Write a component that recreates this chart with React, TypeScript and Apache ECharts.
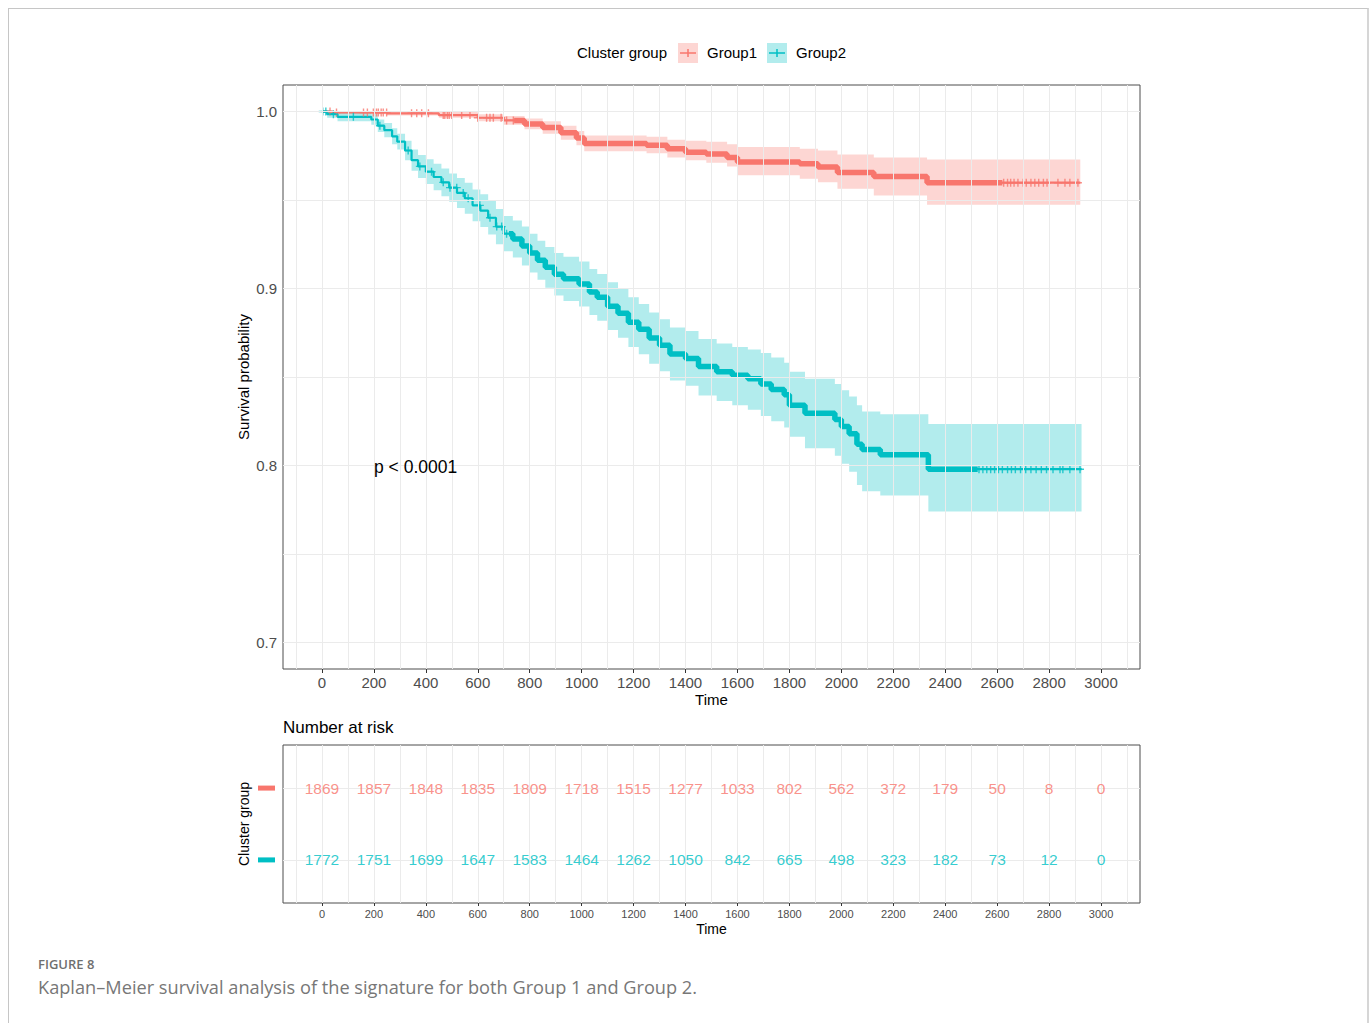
import React, { useEffect, useRef } from "react";
import * as echarts from "echarts";

const RED = "#F8766D";
const TEAL = "#00BFC4";
const RED_BAND = "rgba(248,118,109,0.3)";
const TEAL_BAND = "rgba(0,191,196,0.3)";
const FONT = "Liberation Sans, Arial, sans-serif";

// ---- Group 1 (Kaplan-Meier steps) ----
const g1Time = [0, 40, 250, 450, 600, 700, 780, 850, 920, 980, 1010, 1250, 1330, 1400, 1480, 1560, 1600, 1840, 1910, 1985, 2125, 2330, 2920];
const g1Surv = [1.0, 0.9995, 0.999, 0.998, 0.9965, 0.995, 0.993, 0.991, 0.988, 0.985, 0.982, 0.981, 0.979, 0.977, 0.976, 0.974, 0.9715, 0.9705, 0.9686, 0.9655, 0.9633, 0.9598, 0.9598];
const g1Lower = [1.0, 0.9985, 0.9978, 0.9965, 0.9945, 0.9925, 0.99, 0.9875, 0.984, 0.981, 0.9775, 0.9765, 0.974, 0.9725, 0.971, 0.969, 0.964, 0.962, 0.96, 0.9564, 0.9526, 0.9474, 0.9474];
const g1Upper = [1.0, 1.0, 1.0, 0.9998, 0.9985, 0.9975, 0.996, 0.9945, 0.992, 0.989, 0.9865, 0.9857, 0.984, 0.9835, 0.983, 0.9815, 0.98, 0.979, 0.978, 0.9757, 0.974, 0.9729, 0.9729];
const g1Censor = [31, 56, 160, 175, 198, 210, 217, 228, 236, 249, 345, 365, 384, 410, 467, 473, 483, 490, 500, 538, 570, 600, 634, 647, 660, 690, 711, 737, 2625, 2640, 2652, 2665, 2680, 2700, 2712, 2730, 2745, 2760, 2778, 2792, 2834, 2861, 2880, 2911];
const g1Dense = [740, 2620];

// ---- Group 2 ----
const g2Time = [0, 20, 60, 190, 215, 240, 270, 290, 320, 345, 370, 400, 430, 460, 490, 520, 550, 580, 610, 640, 670, 700, 735, 770, 800, 830, 860, 895, 930, 990, 1030, 1060, 1100, 1140, 1180, 1220, 1260, 1300, 1340, 1400, 1450, 1520, 1580, 1640, 1690, 1730, 1780, 1800, 1860, 1975, 2000, 2030, 2060, 2080, 2150, 2335, 2925];
const g2Surv = [1.0, 0.9985, 0.997, 0.9955, 0.992, 0.9895, 0.986, 0.983, 0.978, 0.9725, 0.969, 0.966, 0.963, 0.96, 0.957, 0.954, 0.951, 0.947, 0.944, 0.94, 0.935, 0.931, 0.928, 0.924, 0.92, 0.916, 0.912, 0.908, 0.9055, 0.9025, 0.898, 0.895, 0.89, 0.886, 0.881, 0.877, 0.872, 0.868, 0.863, 0.8605, 0.856, 0.853, 0.851, 0.849, 0.846, 0.843, 0.84, 0.834, 0.8295, 0.826, 0.822, 0.818, 0.812, 0.809, 0.806, 0.7979, 0.7979];
const g2Lower = [1.0, 0.9965, 0.9945, 0.9925, 0.9885, 0.9855, 0.9815, 0.9785, 0.9725, 0.9665, 0.9625, 0.959, 0.9555, 0.9522, 0.949, 0.9455, 0.9423, 0.938, 0.9348, 0.9305, 0.925, 0.921, 0.9175, 0.913, 0.909, 0.905, 0.9005, 0.896, 0.893, 0.8898, 0.885, 0.8818, 0.8765, 0.8722, 0.867, 0.8628, 0.8575, 0.8533, 0.848, 0.845, 0.8395, 0.8365, 0.834, 0.8315, 0.828, 0.825, 0.8215, 0.8162, 0.8098, 0.8055, 0.801, 0.7965, 0.789, 0.7855, 0.783, 0.774, 0.774];
const g2Upper = [1.0, 1.0, 0.9995, 0.9985, 0.9955, 0.9935, 0.9905, 0.9875, 0.9835, 0.9785, 0.9755, 0.973, 0.9705, 0.9678, 0.965, 0.9625, 0.9597, 0.956, 0.9532, 0.9495, 0.945, 0.941, 0.9385, 0.935, 0.931, 0.927, 0.9235, 0.92, 0.918, 0.9152, 0.911, 0.9082, 0.9035, 0.8998, 0.895, 0.8912, 0.8865, 0.8827, 0.878, 0.876, 0.8715, 0.869, 0.867, 0.8655, 0.8635, 0.861, 0.858, 0.853, 0.849, 0.846, 0.8425, 0.839, 0.834, 0.8305, 0.829, 0.8235, 0.8235];
const g2Censor = [3, 15, 44, 121, 223, 332, 377, 422, 467, 493, 519, 544, 563, 608, 647, 673, 692, 711, 2530, 2545, 2560, 2575, 2590, 2605, 2620, 2640, 2655, 2670, 2690, 2710, 2730, 2750, 2770, 2790, 2815, 2842, 2853, 2880, 2919];
const g2Dense = [720, 2525];

// ---- Axes ----
const timeTicks = [0, 200, 400, 600, 800, 1000, 1200, 1400, 1600, 1800, 2000, 2200, 2400, 2600, 2800, 3000];
const timeGrid = [-100, 0, 100, 200, 300, 400, 500, 600, 700, 800, 900, 1000, 1100, 1200, 1300, 1400, 1500, 1600, 1700, 1800, 1900, 2000, 2100, 2200, 2300, 2400, 2500, 2600, 2700, 2800, 2900, 3000, 3100];
const survTicks = [0.7, 0.8, 0.9, 1.0];
const survGrid = [0.7, 0.75, 0.8, 0.85, 0.9, 0.95, 1.0];

// ---- Risk table ----
const riskTimes = [0, 200, 400, 600, 800, 1000, 1200, 1400, 1600, 1800, 2000, 2200, 2400, 2600, 2800, 3000];
const risk1 = [1869, 1857, 1848, 1835, 1809, 1718, 1515, 1277, 1033, 802, 562, 372, 179, 50, 8, 0];
const risk2 = [1772, 1751, 1699, 1647, 1583, 1464, 1262, 1050, 842, 665, 498, 323, 182, 73, 12, 0];

function survAt(times: number[], surv: number[], t: number) {
  let s = surv[0];
  for (let i = 0; i < times.length; i++) {
    if (times[i] <= t) s = surv[i];
    else break;
  }
  return s;
}

function segment(times: number[], surv: number[], a: number, b: number) {
  const pts: number[][] = [[a, survAt(times, surv, a)]];
  times.forEach((t, i) => {
    if (t > a && t < b) pts.push([t, surv[i]]);
  });
  pts.push([b, survAt(times, surv, b)]);
  return pts;
}

function bandRender(times: number[], lo: number[], hi: number[], color: string) {
  return (params: any, api: any) => {
    if (params.dataIndex !== 0) return null;
    const up: number[][] = [];
    const dn: number[][] = [];
    for (let i = 0; i < times.length; i++) {
      const tn = i < times.length - 1 ? times[i + 1] : times[i];
      up.push(api.coord([times[i], hi[i]]), api.coord([tn, hi[i]]));
      dn.push(api.coord([times[i], lo[i]]), api.coord([tn, lo[i]]));
    }
    return {
      type: "polygon",
      shape: { points: up.concat(dn.reverse()) },
      style: { fill: color },
    };
  };
}

const PLUS = "path://M5,0 L5,10 M0,5 L10,5";

export default function App() {
  const ref = useRef<HTMLDivElement>(null);
  useEffect(() => {
    if (!ref.current) return;
    const chart = echarts.init(ref.current, undefined, { renderer: "svg" });

    const gridLines = (xs: number[], ys: number[]) => ({
      silent: true,
      symbol: ["none", "none"],
      label: { show: false },
      emphasis: { disabled: true },
      lineStyle: { color: "#ebebeb", width: 1, type: "solid" },
      data: [...xs.map((v) => ({ xAxis: v })), ...ys.map((v) => ({ yAxis: v }))],
    });

    const stepLine = (times: number[], surv: number[], color: string, width: number, z: number, xi = 0) => ({
      type: "line",
      xAxisIndex: xi,
      yAxisIndex: xi,
      step: "end",
      showSymbol: false,
      symbol: "none",
      z,
      lineStyle: { color, width },
      data: times.map((t, i) => [t, surv[i]]),
      silent: true,
    });

    const riskLabel = (color: string) => ({
      show: true, position: "inside",
      formatter: (p: any) => String(p.value[2]),
      color, fontSize: 15.5, fontFamily: FONT,
      textBorderWidth: 0, textShadowBlur: 0,
    });

    const option: any = {
      animation: false,
      textStyle: { fontFamily: FONT },
      grid: [
        { left: 283, top: 85, width: 857, height: 584, show: true, borderColor: "#4d4d4d", borderWidth: 1, backgroundColor: "transparent" },
        { left: 283, top: 745, width: 857, height: 158, show: true, borderColor: "#4d4d4d", borderWidth: 1, backgroundColor: "transparent" },
      ],
      xAxis: [
        {
          type: "value", gridIndex: 0, min: -150, max: 3150,
          axisLine: { show: false },
          splitLine: { show: false },
          axisTick: { show: true, customValues: timeTicks, length: 4, lineStyle: { color: "#333" } },
          axisLabel: { customValues: timeTicks, fontSize: 15, color: "#4d4d4d", margin: 6, fontFamily: FONT, formatter: (v: number) => String(v) },
          name: "Time", nameLocation: "middle", nameGap: 23, nameMoveOverlap: false,
          nameTextStyle: { color: "#000", fontSize: 15, fontFamily: FONT },
        },
        {
          type: "value", gridIndex: 1, min: -150, max: 3150,
          axisLine: { show: false },
          splitLine: { show: false },
          axisTick: { show: true, customValues: timeTicks, length: 3, lineStyle: { color: "#333" } },
          axisLabel: { customValues: timeTicks, fontSize: 11, color: "#4d4d4d", margin: 5, fontFamily: FONT, formatter: (v: number) => String(v) },
          name: "Time", nameLocation: "middle", nameGap: 19, nameMoveOverlap: false,
          nameTextStyle: { color: "#000", fontSize: 14, fontFamily: FONT },
        },
      ],
      yAxis: [
        {
          type: "value", gridIndex: 0, min: 0.685, max: 1.015,
          axisLine: { show: false },
          splitLine: { show: false },
          axisTick: { show: true, customValues: survTicks, length: 4, lineStyle: { color: "#333" } },
          axisLabel: { customValues: survTicks, fontSize: 15, color: "#4d4d4d", margin: 6, fontFamily: FONT, formatter: (v: number) => v.toFixed(1) },
          name: "Survival probability", nameLocation: "middle", nameGap: 32, nameMoveOverlap: false,
          nameTextStyle: { color: "#000", fontSize: 15, fontFamily: FONT },
        },
        {
          type: "value", gridIndex: 1, min: 0.4, max: 2.6,
          axisLine: { show: false },
          splitLine: { show: false },
          axisTick: { show: false },
          axisLabel: {
            customValues: [1, 2], margin: 8,
            formatter: (v: number) => (v === 2 ? "{a| }" : v === 1 ? "{b| }" : ""),
            rich: {
              a: { width: 17, height: 5, lineHeight: 5, backgroundColor: RED },
              b: { width: 17, height: 5, lineHeight: 5, backgroundColor: TEAL },
            },
          },
          name: "Cluster group", nameLocation: "middle", nameGap: 32, nameMoveOverlap: false,
          nameTextStyle: { color: "#000", fontSize: 14, fontFamily: FONT },
        },
      ],
      series: [
        { type: "line", xAxisIndex: 0, yAxisIndex: 0, data: [], z: 0, markLine: gridLines(timeGrid, survGrid) },
        { type: "line", xAxisIndex: 1, yAxisIndex: 1, data: [], z: 0, markLine: gridLines(timeGrid, [1, 2]) },
        {
          type: "custom", xAxisIndex: 0, yAxisIndex: 0, z: 2, silent: true,
          renderItem: bandRender(g1Time, g1Lower, g1Upper, RED_BAND),
          data: g1Time.map((t, i) => [t, g1Lower[i], g1Upper[i]]),
          encode: { x: 0, y: [1, 2] },
        },
        {
          type: "custom", xAxisIndex: 0, yAxisIndex: 0, z: 2, silent: true,
          renderItem: bandRender(g2Time, g2Lower, g2Upper, TEAL_BAND),
          data: g2Time.map((t, i) => [t, g2Lower[i], g2Upper[i]]),
          encode: { x: 0, y: [1, 2] },
        },
        stepLine(g1Time, g1Surv, RED, 2.2, 3),
        stepLine(g2Time, g2Surv, TEAL, 2.2, 3),
        {
          ...stepLine(g1Time, g1Surv, RED, 5.5, 3),
          data: segment(g1Time, g1Surv, g1Dense[0], g1Dense[1]),
        },
        {
          ...stepLine(g2Time, g2Surv, TEAL, 5.5, 3),
          data: segment(g2Time, g2Surv, g2Dense[0], g2Dense[1]),
        },
        {
          type: "scatter", xAxisIndex: 0, yAxisIndex: 0, z: 4, silent: true,
          symbol: PLUS, symbolSize: 8,
          itemStyle: { color: "none", borderColor: RED, borderWidth: 1.4 },
          data: g1Censor.map((t) => [t, survAt(g1Time, g1Surv, t)]),
        },
        {
          type: "scatter", xAxisIndex: 0, yAxisIndex: 0, z: 4, silent: true,
          symbol: PLUS, symbolSize: 8,
          itemStyle: { color: "none", borderColor: TEAL, borderWidth: 1.4 },
          data: g2Censor.map((t) => [t, survAt(g2Time, g2Surv, t)]),
        },
        {
          type: "scatter", xAxisIndex: 1, yAxisIndex: 1, z: 5, silent: true,
          symbolSize: 1, itemStyle: { color: "transparent" },
          label: riskLabel(RED),
          data: riskTimes.map((t, i) => [t, 2, risk1[i]]),
        },
        {
          type: "scatter", xAxisIndex: 1, yAxisIndex: 1, z: 5, silent: true,
          symbolSize: 1, itemStyle: { color: "transparent" },
          label: riskLabel(TEAL),
          data: riskTimes.map((t, i) => [t, 1, risk2[i]]),
        },
      ],
      graphic: [
        { type: "text", z: 100, left: 577, top: 45, style: { text: "Cluster group", fontSize: 15, fill: "#000", fontFamily: FONT } },
        { type: "rect", z: 100, shape: { x: 678, y: 43, width: 20, height: 20 }, style: { fill: RED_BAND } },
        { type: "line", z: 100, shape: { x1: 680, y1: 53, x2: 696, y2: 53 }, style: { stroke: RED, lineWidth: 1.5 } },
        { type: "line", z: 100, shape: { x1: 688, y1: 49, x2: 688, y2: 57 }, style: { stroke: RED, lineWidth: 1.5 } },
        { type: "text", z: 100, left: 707, top: 45, style: { text: "Group1", fontSize: 15, fill: "#000", fontFamily: FONT } },
        { type: "rect", z: 100, shape: { x: 767, y: 43, width: 20, height: 20 }, style: { fill: TEAL_BAND } },
        { type: "line", z: 100, shape: { x1: 769, y1: 53, x2: 785, y2: 53 }, style: { stroke: TEAL, lineWidth: 1.5 } },
        { type: "line", z: 100, shape: { x1: 777, y1: 49, x2: 777, y2: 57 }, style: { stroke: TEAL, lineWidth: 1.5 } },
        { type: "text", z: 100, left: 796, top: 45, style: { text: "Group2", fontSize: 15, fill: "#000", fontFamily: FONT } },
        { type: "text", z: 100, left: 374, top: 458, style: { text: "p < 0.0001", fontSize: 17.5, fill: "#000", fontFamily: FONT } },
        { type: "text", z: 100, left: 283, top: 719, style: { text: "Number at risk", fontSize: 17, fill: "#000", fontFamily: FONT } },
        { type: "text", z: 100, left: 38, top: 957, style: { text: "FIGURE 8", fontSize: 13, fontWeight: 600, fill: "#6f6f6f", fontFamily: "Open Sans, sans-serif" } },
        { type: "text", z: 100, left: 38, top: 978, style: { text: "Kaplan\u2013Meier survival analysis of the signature for both Group 1 and Group 2.", fontSize: 18.2, fill: "#777", fontFamily: "Open Sans, sans-serif" } },
      ],
    };

    chart.setOption(option);
    return () => chart.dispose();
  }, []);

  return (
    <div style={{ position: "fixed", left: 0, top: 0, width: 1372, height: 1023, background: "#fff", overflow: "hidden" }}>
      <div
        style={{
          position: "absolute", left: 8, top: 8, width: 1358, height: 1100,
          borderLeft: "1px solid #c6c6c6", borderTop: "1px solid #c6c6c6", borderRight: "2px solid #d6d6d6",
        }}
      />
      <div ref={ref} style={{ position: "absolute", left: 0, top: 0, width: 1372, height: 1023 }} />
    </div>
  );
}
